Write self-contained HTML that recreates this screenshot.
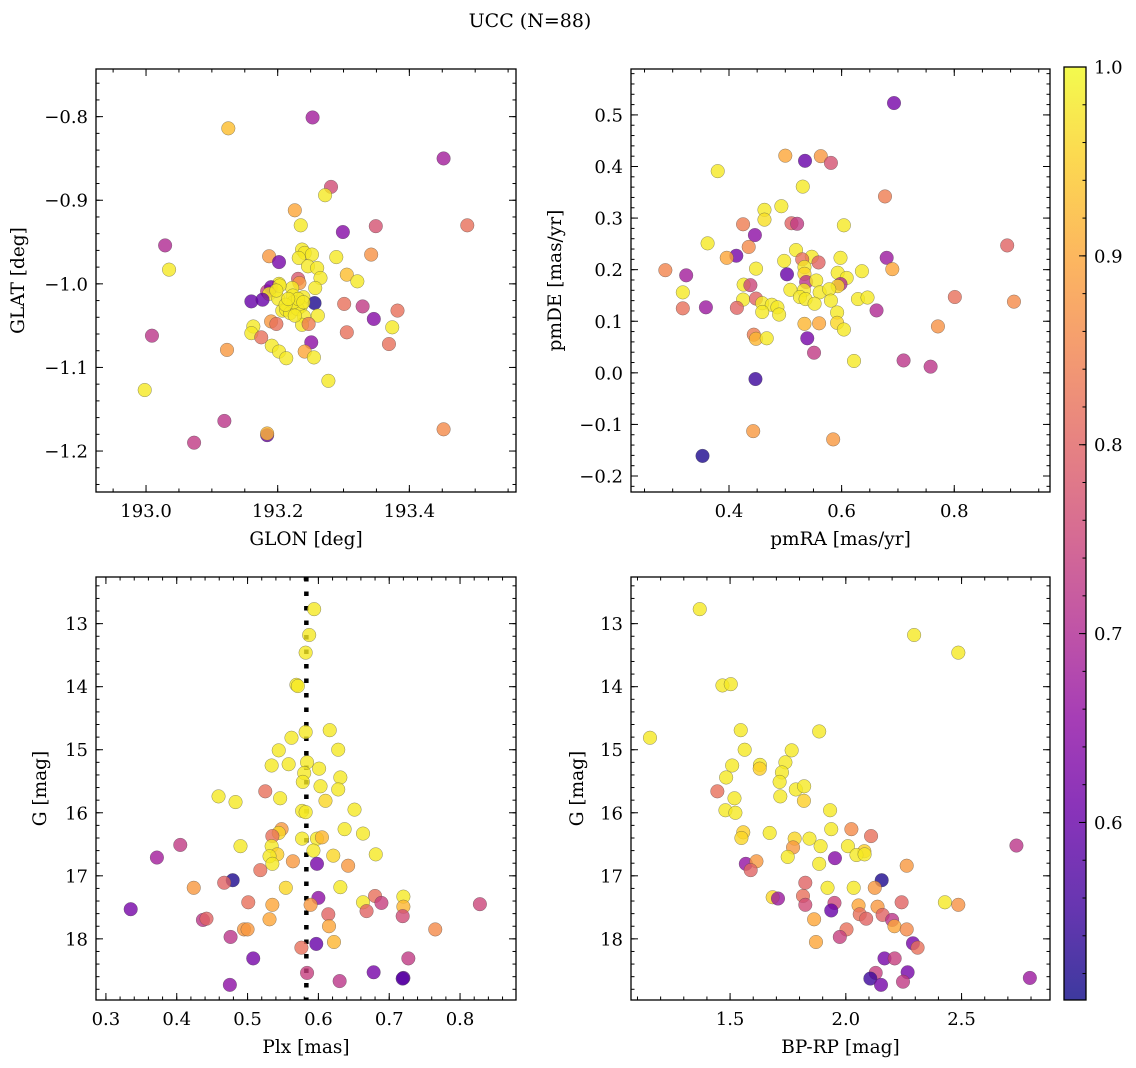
<!DOCTYPE html>
<html><head><meta charset="utf-8">
<style>
html,body{margin:0;padding:0;background:#fff;}
svg{display:block;font-family:"DejaVu Serif","Liberation Serif",serif;}
</style></head>
<body>
<svg id="fig" width="1136" height="1068" viewBox="0 0 1136 1068" xmlns="http://www.w3.org/2000/svg">
<defs>
<linearGradient id="plasmaGrad" x1="0" y1="1" x2="0" y2="0">
<stop offset="0" stop-color="#0d0887"/><stop offset="0.1" stop-color="#41049d"/><stop offset="0.2" stop-color="#6a00a8"/><stop offset="0.3" stop-color="#8f0da4"/><stop offset="0.4" stop-color="#b12a90"/><stop offset="0.5" stop-color="#cc4778"/><stop offset="0.6" stop-color="#e16462"/><stop offset="0.7" stop-color="#f2844b"/><stop offset="0.8" stop-color="#fca636"/><stop offset="0.9" stop-color="#fcce25"/><stop offset="1" stop-color="#f0f921"/>
</linearGradient>
</defs>
<text x="530" y="27" font-size="19" text-anchor="middle">UCC (N=88)</text>
</svg>
<script>
// ---------- data ----------
const p1Glon=[193.125,193.253,193.452,193.281,193.272,193.226,193.488,193.349,193.235,193.299,193.029,193.035,193.237,193.241,193.252,193.232,193.187,193.202,193.289,193.342,193.246,193.260,193.265,193.305,193.321,193.231,193.233,193.257,193.202,193.184,193.190,193.187,193.201,193.222,193.223,193.239,193.160,193.177,193.256,193.235,193.301,193.329,193.382,193.207,193.213,193.219,193.230,193.240,193.261,193.346,193.190,193.198,193.237,193.247,193.374,193.163,193.160,193.175,193.305,193.369,193.009,193.251,193.191,193.202,193.241,193.213,193.255,193.123,193.277,192.998,193.119,193.452,193.073,193.184,193.184,193.203,193.198,193.224,193.231,193.212,193.226,193.239,193.216];
const p1Glat=[-0.814,-0.801,-0.850,-0.884,-0.894,-0.912,-0.930,-0.931,-0.930,-0.938,-0.954,-0.983,-0.959,-0.963,-0.965,-0.969,-0.967,-0.974,-0.968,-0.965,-0.979,-0.981,-0.993,-0.989,-0.997,-0.994,-0.999,-1.005,-1.000,-1.009,-1.004,-1.012,-1.018,-1.005,-1.014,-1.016,-1.021,-1.019,-1.023,-1.027,-1.024,-1.027,-1.032,-1.032,-1.031,-1.035,-1.030,-1.039,-1.038,-1.042,-1.045,-1.048,-1.049,-1.048,-1.052,-1.051,-1.059,-1.064,-1.058,-1.072,-1.062,-1.070,-1.074,-1.081,-1.081,-1.089,-1.088,-1.079,-1.116,-1.127,-1.164,-1.174,-1.190,-1.181,-1.179,-1.002,-1.008,-1.022,-1.018,-1.025,-1.038,-1.022,-1.018];
const p1Prob=[.93,.68,.68,.76,.98,.9,.82,.77,.98,.64,.7,.98,.98,.98,.98,.98,.88,.62,.98,.87,.98,.98,.98,.93,.98,.78,.88,.98,.98,.74,.62,.98,.98,.98,.98,.98,.6,.6,.52,.98,.82,.73,.82,.98,.98,.98,.98,.98,.98,.64,.88,.82,.98,.84,.98,.98,.98,.82,.82,.82,.72,.65,.98,.98,.9,.98,.98,.88,.98,.98,.72,.86,.73,.6,.92,.98,.98,.98,.98,.98,.98,.98,.98];

const p2Pmra=[.693,.500,.535,.563,.581,.380,.531,.677,.463,.493,.463,.425,.511,.521,.604,.446,.362,.435,.519,.894,.413,.396,.547,.530,.559,.598,.680,.498,.448,.534,.287,.324,.503,.534,.593,.609,.636,.690,.426,.438,.537,.555,.598,.593,.318,.509,.533,.561,.578,.526,.536,.581,.629,.646,.801,.425,.448,.459,.476,.486,.552,.906,.318,.359,.414,.459,.489,.592,.662,.534,.560,.592,.604,.771,.444,.448,.467,.539,.551,.622,.710,.758,.447,.443,.585,.353];
const p2Pmde=[.523,.421,.411,.420,.407,.391,.361,.342,.316,.323,.297,.288,.290,.289,.286,.267,.251,.244,.238,.247,.227,.223,.225,.220,.214,.223,.223,.217,.202,.205,.199,.189,.191,.192,.194,.184,.197,.201,.171,.170,.176,.179,.172,.168,.156,.161,.160,.156,.162,.147,.143,.140,.143,.146,.147,.142,.144,.135,.132,.127,.134,.138,.125,.127,.126,.118,.113,.117,.121,.095,.096,.097,.084,.090,.074,.066,.067,.067,.039,.023,.024,.012,-.012,-.113,-.129,-.161];
const p2Prob=[.62,.9,.6,.88,.77,.98,.98,.84,.98,.98,.97,.84,.8,.73,.98,.65,.98,.86,.98,.8,.62,.9,.98,.82,.8,.98,.67,.98,.98,.98,.85,.68,.6,.96,.98,.98,.98,.9,.98,.75,.72,.98,.7,.96,.98,.98,.98,.98,.98,.98,.98,.98,.98,.98,.82,.98,.8,.98,.98,.98,.98,.86,.82,.67,.8,.98,.98,.98,.7,.92,.9,.96,.98,.87,.84,.92,.98,.62,.73,.98,.72,.72,.55,.88,.88,.52];

const p3Plx=[.594,.587,.582,.569,.571,.582,.616,.562,.544,.628,.534,.558,.584,.601,.580,.631,.578,.603,.628,.525,.459,.483,.546,.610,.651,.577,.582,.637,.663,.405,.490,.372,.548,.544,.535,.577,.598,.605,.534,.542,.531,.535,.593,.621,.681,.564,.598,.642,.518,.479,.467,.424,.554,.631,.600,.680,.689,.720,.720,.663,.501,.535,.589,.828,.335,.668,.614,.719,.437,.442,.531,.495,.500,.615,.765,.476,.622,.597,.576,.508,.727,.584,.678,.720,.719,.630,.475];
const p3G=[12.77,13.18,13.46,13.97,13.99,14.72,14.69,14.81,15.01,15.00,15.25,15.23,15.20,15.30,15.37,15.44,15.51,15.58,15.63,15.66,15.74,15.83,15.77,15.81,15.95,15.97,15.99,16.26,16.33,16.51,16.53,16.71,16.26,16.32,16.37,16.41,16.41,16.39,16.53,16.66,16.69,16.81,16.60,16.68,16.66,16.77,16.81,16.84,16.91,17.07,17.11,17.19,17.19,17.18,17.35,17.32,17.43,17.33,17.49,17.42,17.42,17.46,17.46,17.45,17.53,17.56,17.61,17.64,17.70,17.68,17.69,17.85,17.85,17.80,17.85,17.97,18.05,18.08,18.14,18.31,18.31,18.54,18.53,18.62,18.63,18.67,18.73];
const p3Prob=[.98,.98,.98,.98,.98,.98,.98,.98,.98,.98,.98,.98,.98,.98,.98,.98,.98,.98,.98,.82,.98,.98,.98,.96,.98,.98,.98,.98,.98,.73,.98,.68,.88,.96,.82,.98,.98,.92,.98,.95,.98,.98,.98,.96,.98,.88,.62,.88,.82,.52,.8,.88,.96,.98,.65,.82,.74,.98,.92,.98,.82,.9,.88,.75,.62,.8,.8,.76,.72,.8,.9,.88,.88,.9,.86,.72,.92,.6,.82,.62,.73,.74,.62,.6,.58,.72,.65];
const plxMedian=0.583;

const p4Bprp=[1.369,2.295,2.486,1.467,1.503,1.154,1.546,1.885,1.563,1.766,1.509,1.629,1.628,1.739,1.724,1.483,1.714,1.784,1.820,1.445,1.519,1.717,1.819,1.480,1.523,1.932,1.937,2.024,2.109,1.557,1.549,1.671,1.779,1.772,1.843,1.891,2.009,2.080,2.046,2.081,1.749,1.885,1.953,2.263,1.568,1.614,1.589,2.737,2.155,2.125,1.825,1.921,2.034,1.684,1.707,1.815,1.825,1.951,2.055,2.137,2.241,2.428,2.486,1.937,2.060,2.088,2.159,2.200,2.210,2.263,1.863,2.003,1.974,1.871,2.290,2.310,2.167,2.211,2.267,2.129,2.106,2.152,2.247,2.795];
const p4G=[12.77,13.18,13.46,13.98,13.96,14.81,14.69,14.71,15.00,15.01,15.25,15.24,15.30,15.20,15.36,15.44,15.51,15.63,15.58,15.66,15.77,15.74,15.81,15.96,16.00,15.96,16.26,16.26,16.37,16.31,16.40,16.32,16.41,16.55,16.41,16.53,16.53,16.61,16.67,16.66,16.70,16.81,16.72,16.84,16.81,16.77,16.91,16.52,17.07,17.19,17.11,17.19,17.19,17.34,17.36,17.32,17.46,17.43,17.47,17.49,17.42,17.42,17.46,17.55,17.61,17.68,17.62,17.70,17.80,17.85,17.69,17.85,17.97,18.05,18.07,18.14,18.31,18.31,18.53,18.54,18.63,18.73,18.68,18.62];
const p4Prob=[.98,.98,.98,.98,.98,.98,.98,.98,.98,.98,.98,.98,.95,.98,.98,.98,.98,.98,.98,.82,.98,.98,.95,.98,.98,.98,.98,.86,.82,.95,.96,.98,.96,.88,.98,.98,.98,.95,.98,.98,.98,.98,.64,.88,.66,.88,.8,.72,.52,.88,.8,.98,.98,.96,.67,.82,.76,.75,.9,.88,.8,.98,.87,.6,.82,.8,.8,.72,.9,.86,.9,.82,.74,.9,.62,.82,.62,.74,.62,.74,.55,.62,.73,.67];

const p1XTicks=[193.0,193.2,193.4];
const p1YTicks=[-0.8,-0.9,-1.0,-1.1,-1.2];
const p2XTicks=[0.4,0.6,0.8];
const p2YTicks=[0.5,0.4,0.3,0.2,0.1,0.0,-0.1,-0.2];
const p3XTicks=[0.3,0.4,0.5,0.6,0.7,0.8];
const gTicks=[13,14,15,16,17,18];
const p4XTicks=[1.5,2.0,2.5];
const cbTicks=[0.6,0.7,0.8,0.9,1.0];
const probMin=0.506, probMax=1.0;

// ---------- helpers ----------
const NS='http://www.w3.org/2000/svg';
const fig=document.getElementById('fig');
const TF=18, LF=18.5;
function mk(tag,attrs,parent){const e=document.createElementNS(NS,tag);for(const k in attrs)e.setAttribute(k,attrs[k]);(parent||fig).appendChild(e);return e;}
const stops=[[13,8,135],[65,4,157],[106,0,168],[143,13,164],[177,42,144],[204,71,120],[225,100,98],[242,132,75],[252,166,54],[252,206,37],[240,249,33]];
function plasma(v){let t=(v-probMin)/(probMax-probMin);t=Math.max(0,Math.min(1,t))*10;const i=Math.min(9,Math.floor(t)),f=t-i;const a=stops[i],b=stops[i+1];return 'rgb('+a.map((c,k)=>Math.round(c+(b[k]-c)*f)).join(',')+')';}
function fmt(v,d){const s=Math.abs(v).toFixed(d);return (v<-1e-9?'\u2212':'')+s;}

function panel(c){
  const g=mk('g',{});
  
  
  const sx=v=>c.L+(v-c.x0)/(c.x1-c.x0)*c.W;
  const sy=c.inv?(v=>c.T+(v-c.y0)/(c.y1-c.y0)*c.H):(v=>c.T+(c.y1-v)/(c.y1-c.y0)*c.H);
  if(c.vline!==undefined){
    const ln=mk('line',{x1:sx(c.vline),x2:sx(c.vline),y1:c.T,y2:c.T+c.H,stroke:'#000','stroke-width':4.5,'stroke-dasharray':'4.5 10'},g);
    
    
  }
  const pts=mk('g',{},g);
  
  
  for(let i=0;i<c.xs.length;i++){
    const cx=sx(c.xs[i]), cy=sy(c.ys[i]);
    if(cx<c.L||cx>c.L+c.W||cy<c.T||cy>c.T+c.H) continue;
    const p=mk('circle',{cx:cx,cy:cy,r:6.8,fill:plasma(c.cs[i]),'fill-opacity':0.8,stroke:'#444','stroke-width':0.5,'stroke-opacity':0.6},pts);
    
    
  }
  const fr=mk('rect',{x:c.L,y:c.T,width:c.W,height:c.H,fill:'none',stroke:'#000','stroke-width':1.3},g);
  
  
  const tk=mk('g',{stroke:'#000','stroke-width':1},g);
  
  
  for(let k=Math.ceil(c.x0/c.xm-1e-9);k*c.xm<=c.x1;k++){const x=sx(k*c.xm);mk('line',{x1:x,x2:x,y1:c.T+c.H,y2:c.T+c.H-3.5},tk);mk('line',{x1:x,x2:x,y1:c.T,y2:c.T+3.5},tk);}
  const ylo=Math.min(c.y0,c.y1),yhi=Math.max(c.y0,c.y1);
  for(let k=Math.ceil(ylo/c.ym-1e-9);k*c.ym<=yhi;k++){const y=sy(k*c.ym);mk('line',{x1:c.L,x2:c.L+3.5,y1:y,y2:y},tk);mk('line',{x1:c.L+c.W,x2:c.L+c.W-3.5,y1:y,y2:y},tk);}
  c.xt.forEach(v=>{const x=sx(v);mk('line',{x1:x,x2:x,y1:c.T+c.H,y2:c.T+c.H-7},tk);mk('line',{x1:x,x2:x,y1:c.T,y2:c.T+7},tk);
    const t=mk('text',{x:x,y:c.T+c.H+25,'font-size':TF,'text-anchor':'middle'},g);t.textContent=fmt(v,c.xd);
    
    });
  c.yt.forEach(v=>{const y=sy(v);mk('line',{x1:c.L,x2:c.L+7,y1:y,y2:y},tk);mk('line',{x1:c.L+c.W,x2:c.L+c.W-7,y1:y,y2:y},tk);
    const t=mk('text',{x:c.L-8,y:y+6.5,'font-size':TF,'text-anchor':'end'},g);t.textContent=fmt(v,c.yd);
    
    });
  const xl=mk('text',{x:c.L+c.W/2,y:c.T+c.H+53,'font-size':LF,'text-anchor':'middle'},g);xl.textContent=c.xlab;
  
  
  const yx=c.ylx, yy=c.T+c.H/2;
  const yl=mk('text',{x:yx,y:yy,'font-size':LF,'text-anchor':'middle',transform:'rotate(-90 '+yx+' '+yy+')'},g);yl.textContent=c.ylab;
  
  
}

panel({name:'glon-glat-panel',L:96,T:69,W:420,H:423,x0:192.924,x1:193.562,y0:-1.249,y1:-0.743,inv:false,xs:p1Glon,ys:p1Glat,cs:p1Prob,xt:p1XTicks,yt:p1YTicks,xm:0.05,ym:0.02,xd:1,yd:1,xlab:'GLON [deg]',ylab:'GLAT [deg]',ylx:24});
panel({name:'pm-panel',L:631,T:69,W:419,H:423,x0:0.226,x1:0.970,y0:-0.231,y1:0.589,inv:false,xs:p2Pmra,ys:p2Pmde,cs:p2Prob,xt:p2XTicks,yt:p2YTicks,xm:0.05,ym:0.02,xd:1,yd:1,xlab:'pmRA [mas/yr]',ylab:'pmDE [mas/yr]',ylx:561});
panel({name:'plx-g-panel',L:96,T:577,W:420,H:423,x0:0.286,x1:0.879,y0:12.26,y1:18.97,inv:true,xs:p3Plx,ys:p3G,cs:p3Prob,xt:p3XTicks,yt:gTicks,xm:0.02,ym:0.2,xd:1,yd:0,xlab:'Plx [mas]',ylab:'G [mag]',ylx:46,vline:plxMedian});
panel({name:'cmd-panel',L:631,T:577,W:419,H:423,x0:1.072,x1:2.882,y0:12.26,y1:18.97,inv:true,xs:p4Bprp,ys:p4G,cs:p4Prob,xt:p4XTicks,yt:gTicks,xm:0.1,ym:0.2,xd:1,yd:0,xlab:'BP-RP [mag]',ylab:'G [mag]',ylx:583});

// ---------- colorbar ----------
(function(){
  const L=1064,T=67,W=22,H=933;
  const g=mk('g',{});
  
  
  const sy=v=>T+(probMax-v)/(probMax-probMin)*H;
  mk('rect',{x:L,y:T,width:W,height:H,fill:'url(#plasmaGrad)','fill-opacity':0.8},g);
  mk('rect',{x:L,y:T,width:W,height:H,fill:'none',stroke:'#000','stroke-width':1.3},g);
  for(let k=Math.ceil(probMin/0.02);k*0.02<=probMax+1e-9;k++){const y=sy(k*0.02);mk('line',{x1:L+W,x2:L+W-3.5,y1:y,y2:y,stroke:'#000','stroke-width':1},g);}
  cbTicks.forEach(v=>{const y=sy(v);mk('line',{x1:L+W,x2:L+W-7,y1:y,y2:y,stroke:'#000','stroke-width':1},g);
    const t=mk('text',{x:L+W+8,y:y+6.5,'font-size':TF},g);t.textContent=v.toFixed(1);
    
    });
})();
</script>
</body></html>
